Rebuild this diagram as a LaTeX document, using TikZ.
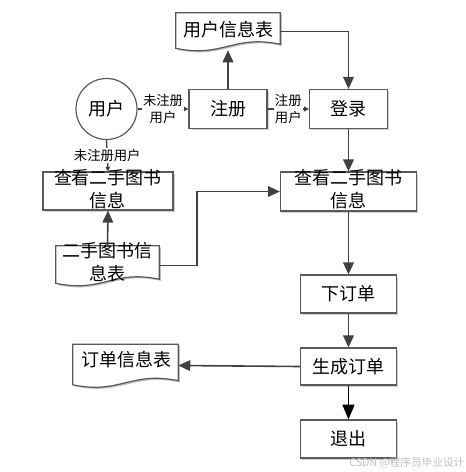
\documentclass[tikz,border=0pt]{standalone}
\usepackage{fontspec}
\setmainfont{Noto Sans CJK SC}
\usetikzlibrary{arrows.meta,shadows,calc}
\definecolor{linegray}{HTML}{404040}
\definecolor{boxgray}{HTML}{5A5A5A}
\newcommand\docoutline[1]{%
  \fill[black!25,transform canvas={shift={(1.2pt,-1.2pt)}}] (#1.north west) -- (#1.north east) -- ($(#1.south east)+(0,-6)$) .. controls ($(#1.south west)!0.55!(#1.south east)+(0,-16)$) and ($(#1.south west)!0.45!(#1.south east)+(0,8)$) .. ($(#1.south west)+(0,-2)$) -- cycle;
  \draw[docl] (#1.north west) -- (#1.north east) -- ($(#1.south east)+(0,-6)$) .. controls ($(#1.south west)!0.55!(#1.south east)+(0,-16)$) and ($(#1.south west)!0.45!(#1.south east)+(0,8)$) .. ($(#1.south west)+(0,-2)$) -- cycle;}
\begin{document}
\begin{tikzpicture}[x=0.75pt,y=-0.75pt,
  box/.style={draw=boxgray, line width=0.9pt, fill=white, inner sep=0pt,
    drop shadow={shadow xshift=1.2pt,shadow yshift=-1.2pt,fill=black!30,opacity=0.6},
    font=\fontsize{13.5}{17.25}\selectfont},
  docl/.style={draw=boxgray, line width=0.9pt, fill=white},
  docbody/.style={inner sep=0pt},
  txt/.style={inner sep=0pt, align=center, font=\fontsize{13.5}{17.25}\selectfont},
  lab/.style={fill=white, inner sep=1pt, align=center, font=\fontsize{10}{12.75}\selectfont},
  arr/.style={draw=linegray, line width=1.2pt, -{Triangle[length=9pt,width=8pt]}},
  sarr/.style={draw=linegray, line width=1pt, -{Triangle[length=3.5pt,width=3.5pt]}},
  barr/.style={draw=black, line width=1.1pt, -{Triangle[length=11pt,width=9pt]}}]
\useasboundingbox (0,0) rectangle (466,472);

% document shapes
\node[docbody, minimum width=78pt, minimum height=27.75pt] (udoc) at (228,31.5) {};
\docoutline{udoc}
\node[txt] (udoct) at (228,30) {用户信息表};

\node[docbody, minimum width=77.25pt, minimum height=29.25pt] (bdoc) at (107.5,265.5) {};
\docoutline{bdoc}
\node[txt] (bdoct) at (107.5,262) {二手图书信\\息表};

\node[docbody, minimum width=78.75pt, minimum height=31.5pt] (odoc) at (125.5,365.5) {};
\docoutline{odoc}
\node[txt] (odoct) at (126,360) {订单信息表};

% user circle
\node[circle, draw=boxgray, line width=0.9pt, minimum size=45.75pt, inner sep=0pt,
  font=\fontsize{13.5}{17.25}\selectfont] (user) at (106.5,109) {用户};

% boxes
\node[box, minimum width=58.5pt, minimum height=29.25pt] (reg) at (228,109) {注册};
\node[box, minimum width=58.5pt, minimum height=29.25pt] (login) at (348.5,109) {登录};
\node[box, minimum width=102pt, minimum height=29.25pt] (viewR) at (348.5,191.5) {};
\node[txt] (viewRt) at (348.5,189.5) {查看二手图书\\信息};
\node[box, minimum width=97.5pt, minimum height=28.5pt] (viewL) at (108,191) {};
\node[txt] (viewLt) at (108,189.5) {查看二手图书\\信息};
\node[box, minimum width=72pt, minimum height=28.5pt] (order) at (348.5,294) {下订单};
\node[box, minimum width=72pt, minimum height=27.75pt] (gen) at (348.5,366.5) {生成订单};
\node[box, minimum width=72pt, minimum height=28.5pt] (exit) at (348.5,439) {退出};

% connectors
\draw[arr] (reg.north) -- (udoc.south);
\draw[arr] (udoc.east) -| (login.north);
\draw[sarr] (user.east) -- node[lab] (l1) {未注册\\用户} (reg.west);
\draw[sarr] (reg.east) -- node[lab] (l2) {注册\\用户} (login.west);
\draw[sarr] (user.south) -- node[lab] (l3) {未注册用户} (viewL.north);
\draw[arr] (bdoc.north) -- (viewL.south);
\draw[arr] (bdoc.east) -- ++(38,0) |- (viewR.west);
\draw[arr] (login.south) -- (viewR.north);
\draw[arr] (viewR.south) -- (order.north);
\draw[arr] (order.south) -- (gen.north);
\draw[arr] (gen.west) -- (odoc.east);
\draw[barr] (gen.south) -- (exit.north);

% watermark
\node[anchor=south east, inner sep=1pt, text=black!25, font=\fontsize{8}{9}\selectfont] (wm) at (466,470) {CSDN @程序员毕业设计};
\end{tikzpicture}
\end{document}
